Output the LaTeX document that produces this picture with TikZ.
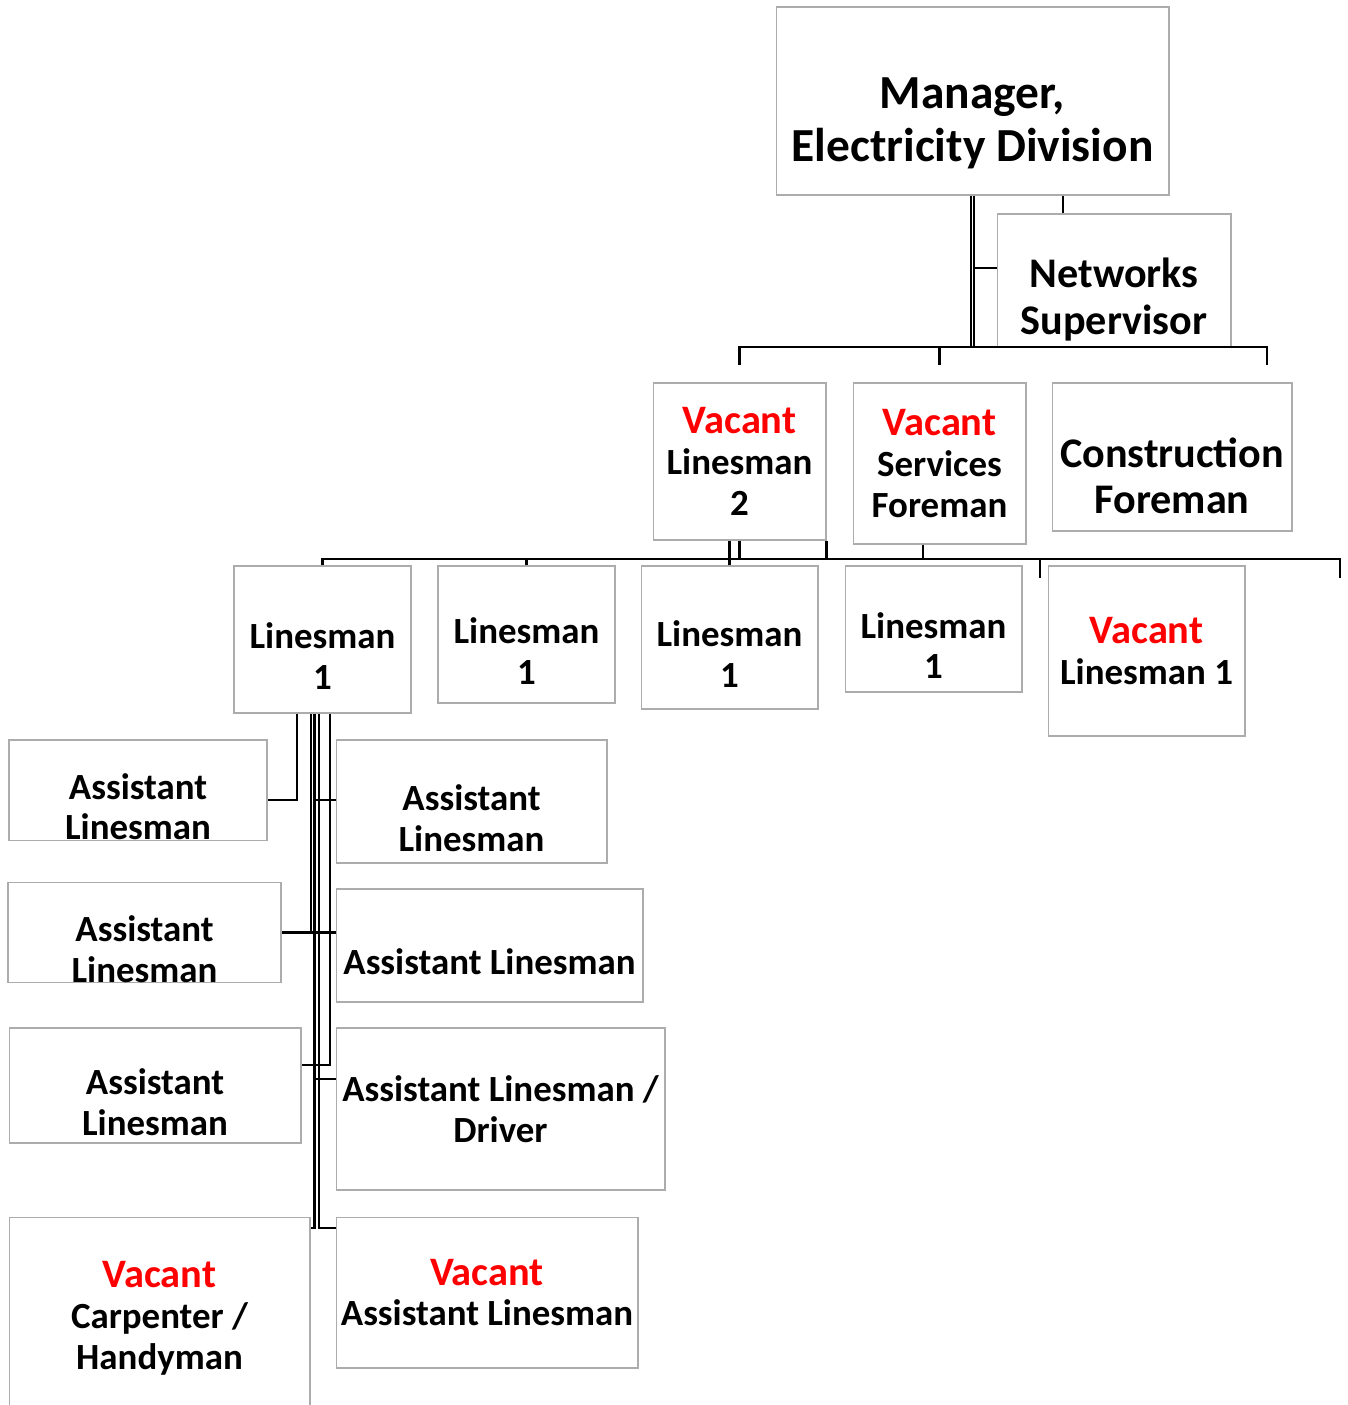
\documentclass[tikz,border=0pt]{standalone}
\usepackage{fontspec}
\setmainfont{Carlito}
\usetikzlibrary{calc}

\newcommand{\vacantline}{{\fontsize{23}{25}\selectfont\color{red}Vacant}}
\newcommand{\lowtop}{\rule{0pt}{1.6em}}

\begin{document}
\begin{tikzpicture}[x=0.02cm,y=-0.02cm,
  post/.style={draw=gray!65,line width=0.6pt,fill=white,align=center,
    inner xsep=1pt,inner ysep=0pt,font=\bfseries\fontsize{21}{23.2}\selectfont},
  conn/.style={line width=1.4pt},
  dbl/.style={double,line width=0.9pt,double distance=1pt}]

\useasboundingbox (0,0) rectangle (1347,1405);

% helper levels
\coordinate (barA) at (0,347);
\coordinate (jT) at (0,365);
\coordinate (kT) at (1267,0);
\coordinate (barB) at (0,559);
\coordinate (jB) at (0,578);
\coordinate (kF) at (1040,0);
\coordinate (kG) at (1340,0);
\coordinate (kS) at (923,0);
\coordinate (jN) at (0,268);
\coordinate (kN) at (1063,0);

% top
\node[post,minimum width=7.86cm,minimum height=3.76cm,
  font=\bfseries\fontsize{27}{30}\selectfont] (mgr) at (972.5,101)
  {\lowtop Manager,\\Electricity Division};
\node[post,minimum width=4.68cm,minimum height=2.66cm,
  font=\bfseries\fontsize{24}{26.6}\selectfont] (ns) at (1114,280.5)
  {\lowtop Networks\\Supervisor};

\node[post,minimum width=3.46cm,minimum height=3.14cm] (vl2) at (739.5,461.5)
  {\vacantline\\Linesman\\2};
\node[post,minimum width=3.46cm,minimum height=3.22cm] (sf) at (939.5,463.5)
  {\vacantline\\Services\\Foreman};
\node[post,minimum width=4.8cm,minimum height=2.96cm,
  font=\bfseries\fontsize{24}{26}\selectfont] (cf) at (1172,457)
  {\lowtop Construction\\Foreman};

% linesmen
\node[post,minimum width=3.54cm,minimum height=2.94cm] (l1a) at (322.5,639.5) {\lowtop Linesman\\1};
\node[post,minimum width=3.54cm,minimum height=2.74cm] (l1b) at (526.5,634.5) {\lowtop Linesman\\1};
\node[post,minimum width=3.54cm,minimum height=2.86cm] (l1c) at (729.5,637.5) {\lowtop Linesman\\1};
\node[post,minimum width=3.54cm,minimum height=2.52cm] (l1d) at (933.5,629) {\lowtop Linesman\\1};
\node[post,minimum width=3.94cm,minimum height=3.4cm] (vl1) at (1146.5,651)
  {\vacantline\\Linesman 1};

% assistants
\node[post,minimum width=5.16cm,minimum height=2cm] (la1) at (138,790) {\lowtop Assistant\\Linesman};
\node[post,minimum width=5.42cm,minimum height=2.46cm] (ra1) at (471.5,801.5) {\lowtop Assistant\\Linesman};
\node[post,minimum width=5.46cm,minimum height=1.98cm] (la2) at (144.5,932.5) {\lowtop Assistant\\Linesman};
\node[post,minimum width=6.14cm,minimum height=2.26cm] (ra2) at (489.5,945.5) {\lowtop Assistant Linesman};
\node[post,minimum width=5.84cm,minimum height=2.3cm] (la3) at (155,1085.5) {\lowtop Assistant\\Linesman};
\node[post,minimum width=6.58cm,minimum height=3.24cm] (ra3) at (500.5,1109)
  {Assistant Linesman /\\Driver};
\node[post,minimum width=6.02cm,minimum height=4.06cm] (lvc) at (159.5,1318.5)
  {\vacantline\\Carpenter /\\Handyman};
\node[post,minimum width=6.04cm,minimum height=3.02cm] (rva) at (487,1292.5)
  {\vacantline\\Assistant Linesman};

% manager down
\draw[dbl] (mgr.south) -- (mgr.south |- barA);
\draw[conn] (mgr.south |- jN) -- (ns.west |- jN);
\draw[conn] (mgr.south -| kN) -- (ns.north -| kN);
\draw[conn] (vl2.north |- jT) -- (vl2.north |- barA) -- (kT |- barA) -- (kT |- jT);
\draw[conn] (sf.north |- barA) -- (sf.north |- jT);

% second bar
\draw[conn] (l1a.north) -- (l1a.north |- barB) -- (kG |- barB) -- (kG |- jB);
\draw[conn] (l1b.north) -- (l1b.north |- barB);
\draw[conn] (l1c.north) -- (l1c.north |- vl2.south);
\draw[conn] (vl2.south) -- (vl2.south |- barB);
\draw[conn] (vl2.south east) -- (vl2.south east |- barB);
\draw[conn] (sf.south -| kS) -- (kS |- barB);
\draw[conn] (kF |- barB) -- (kF |- jB);

% under first linesman
\coordinate (kA) at (297,0);
\coordinate (kB) at (311,0);
\coordinate (kC) at (314.5,0);
\coordinate (kD) at (319,0);
\coordinate (kE) at (330,0);
\coordinate (jA) at (0,800);
\coordinate (jC) at (0,1065);
\coordinate (jD) at (0,1079);
\coordinate (jE) at (0,1228);

\draw[conn] (l1a.south -| kA) |- (la1.east |- jA);
\draw[conn] (l1a.south -| kB) |- (la2.east);
\draw[conn] (kB |- la2.east) -- (ra2.west |- la2.east);
\draw[conn] (l1a.south -| kC) |- (lvc.east |- jE);
\draw[conn] (l1a.south -| kD) |- (rva.west |- jE);
\draw[conn] (l1a.south -| kE) |- (la3.east |- jC);
\draw[conn] (kC |- jA) -- (ra1.west |- jA);
\draw[conn] (kC |- jD) -- (ra3.west |- jD);

\end{tikzpicture}
\end{document}
